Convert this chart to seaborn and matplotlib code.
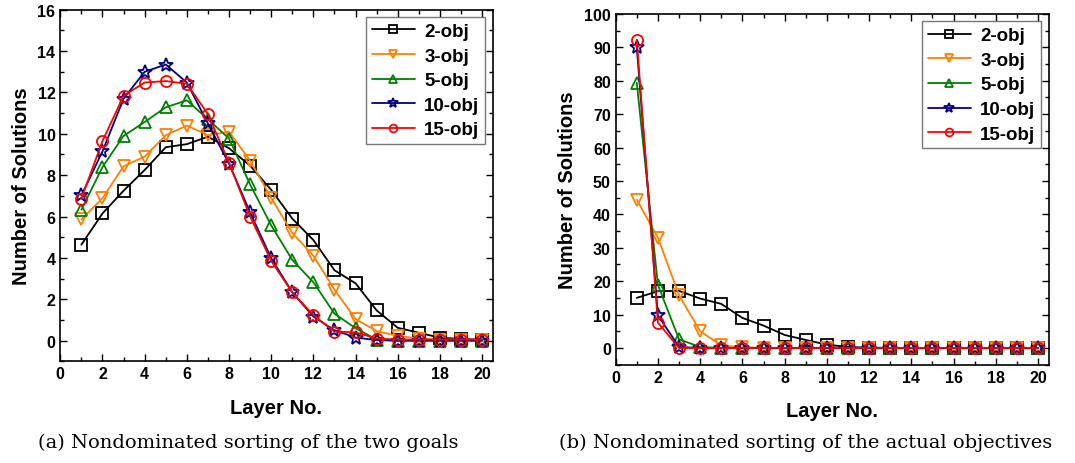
import numpy as np
import matplotlib
matplotlib.use("Agg")
import matplotlib.pyplot as plt
from matplotlib.ticker import MultipleLocator
import seaborn as sns

sns.set_theme(style="ticks")
plt.rcParams['font.family'] = ['Liberation Sans', 'DejaVu Sans']
plt.rcParams.update({"text.color": "black", "axes.labelcolor": "black",
                     "xtick.color": "black", "ytick.color": "black",
                     "axes.edgecolor": "black"})

layers = list(range(1, 21))
series_names = ["2-obj", "3-obj", "5-obj", "10-obj", "15-obj"]
colors = ["#000000", "#FF8000", "#008000", "#000080", "#FF0000"]
markers = ["s", "v", "^", "*", "o"]

# (a) two goals
a_2obj = [4.64, 6.15, 7.25, 8.25, 9.35, 9.5, 9.86, 9.3, 8.46, 7.29, 5.9, 4.86, 3.4, 2.77, 1.46, 0.62, 0.38, 0.14, 0.08, 0.05]
a_3obj = [5.86, 6.89, 8.43, 8.9, 9.93, 10.4, 9.93, 10.1, 8.7, 6.9, 5.2, 4.1, 2.46, 1.04, 0.46, 0.23, 0.1, 0.05, 0.05, 0.05]
a_5obj = [6.33, 8.39, 9.9, 10.57, 11.28, 11.62, 10.7, 9.77, 7.55, 5.57, 3.9, 2.82, 1.3, 0.6, 0.05, 0.0, 0.0, 0.0, 0.0, 0.0]
a_10obj = [7.02, 9.15, 11.7, 13.0, 13.35, 12.48, 10.5, 8.55, 6.2, 3.98, 2.33, 1.16, 0.5, 0.15, 0.02, 0.0, 0.0, 0.0, 0.0, 0.0]
a_15obj = [6.87, 9.65, 11.84, 12.48, 12.55, 12.42, 10.95, 8.6, 6.0, 3.85, 2.33, 1.23, 0.44, 0.4, 0.1, 0.05, 0.05, 0.05, 0.05, 0.05]

# (b) actual objectives
b_2obj = [15.0, 17.0, 17.1, 14.8, 13.2, 9.0, 6.7, 3.9, 2.4, 1.0, 0.3, 0.1, 0.05, 0.0, 0.0, 0.0, 0.0, 0.0, 0.0, 0.0]
b_3obj = [44.4, 33.0, 15.8, 5.0, 0.8, 0.2, 0.05, 0.0, 0.0, 0.0, 0.0, 0.0, 0.0, 0.0, 0.0, 0.0, 0.0, 0.0, 0.0, 0.0]
b_5obj = [79.4, 18.9, 2.6, 0.3, 0.0, 0.0, 0.0, 0.0, 0.0, 0.0, 0.0, 0.0, 0.0, 0.0, 0.0, 0.0, 0.0, 0.0, 0.0, 0.0]
b_10obj = [90.0, 9.8, 0.3, 0.0, 0.0, 0.0, 0.0, 0.0, 0.0, 0.0, 0.0, 0.0, 0.0, 0.0, 0.0, 0.0, 0.0, 0.0, 0.0, 0.0]
b_15obj = [92.3, 7.6, 0.0, 0.0, 0.0, 0.0, 0.0, 0.0, 0.0, 0.0, 0.0, 0.0, 0.0, 0.0, 0.0, 0.0, 0.0, 0.0, 0.0, 0.0]

x_ticks = list(range(0, 21, 2))
a_yticks = list(range(0, 17, 2))
b_yticks = list(range(0, 101, 10))

caption_a = "(a) Nondominated sorting of the two goals"
caption_b = "(b) Nondominated sorting of the actual objectives"

fig = plt.figure(figsize=(10.75, 4.64), dpi=100)
ax1 = fig.add_axes([0.0561, 0.2192, 0.4022, 0.7577])
ax2 = fig.add_axes([0.5727, 0.2119, 0.4028, 0.7558])


def draw(ax, data, ylim, yticks, yminor):
    for name, vals, c, m in zip(series_names, data, colors, markers):
        ms = 10.5 if m == "*" else 8
        sns.lineplot(x=layers, y=vals, ax=ax, color=c, marker=m, markersize=ms,
                     markerfacecolor="none", markeredgecolor=c, markeredgewidth=1.3,
                     linewidth=1.3, label=name)
    ax.set_xlim(0, 20.5)
    ax.set_ylim(*ylim)
    ax.set_xticks(x_ticks)
    ax.set_yticks(yticks)
    ax.xaxis.set_minor_locator(MultipleLocator(1))
    ax.yaxis.set_minor_locator(MultipleLocator(yminor))
    ax.tick_params(which="both", direction="in", top=True, right=True,
                   labeltop=False, labelright=False, colors="black")
    ax.tick_params(which="major", length=5, width=1)
    ax.tick_params(which="minor", length=3, width=1)
    for lab in ax.get_xticklabels() + ax.get_yticklabels():
        lab.set_fontweight("bold")
        lab.set_fontsize(11.5)
    for sp in ax.spines.values():
        sp.set_linewidth(1.2)
        sp.set_color("black")
    ax.set_xlabel("Layer No.", fontsize=14.5, fontweight="bold", labelpad=12)
    ax.set_ylabel("Number of Solutions", fontsize=14.5, fontweight="bold", labelpad=5)
    leg = ax.legend(loc="upper right", frameon=True, fancybox=False,
                    prop={"weight": "bold", "size": 13.5}, handlelength=2.3,
                    markerscale=0.7, borderpad=0.3, labelspacing=0.4,
                    handletextpad=0.5, borderaxespad=0.4)
    leg.get_frame().set_edgecolor("#555555")
    leg.get_frame().set_linewidth(1.0)


draw(ax1, [a_2obj, a_3obj, a_5obj, a_10obj, a_15obj], (-1, 16), a_yticks, 1)
draw(ax2, [b_2obj, b_3obj, b_5obj, b_10obj, b_15obj], (-5, 100), b_yticks, 5)

fig.text(0.231, 0.045, caption_a, ha="center", va="center", fontsize=14,
         family=["DejaVu Serif"])
fig.text(0.749, 0.045, caption_b, ha="center", va="center", fontsize=14,
         family=["DejaVu Serif"])

fig.savefig("out.png", dpi=100)
